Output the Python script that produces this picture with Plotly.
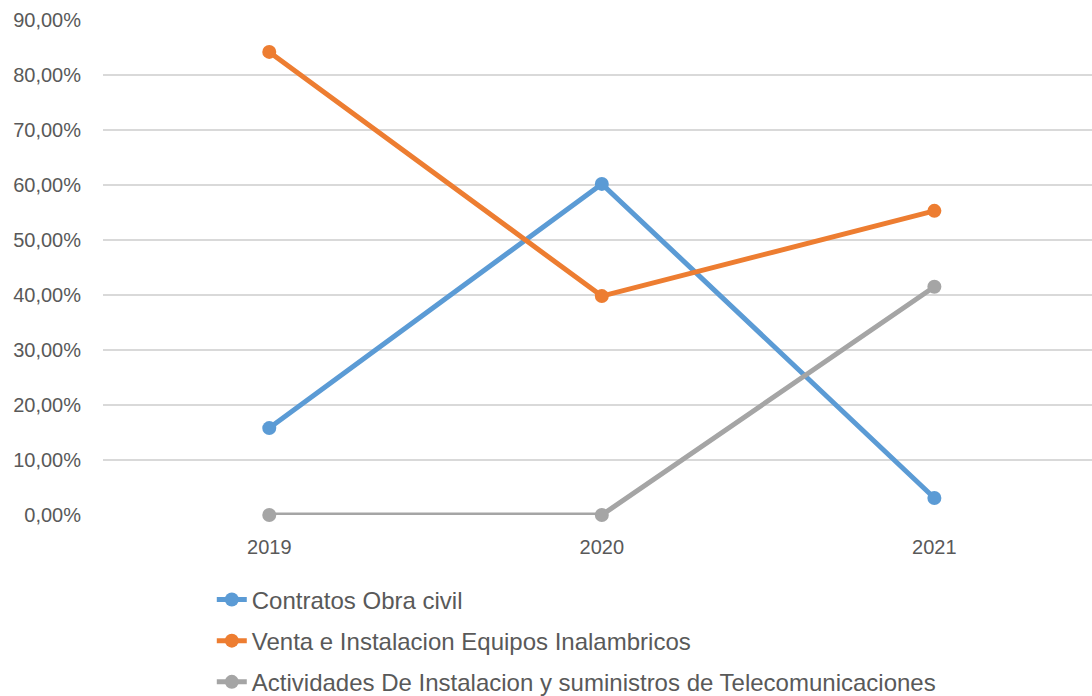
import plotly.graph_objects as go

years = ["2019", "2020", "2021"]
contratos = [0.158, 0.602, 0.031]
venta = [0.842, 0.398, 0.553]
actividades = [0.0, 0.0, 0.415]
names = ["Contratos Obra civil",
         "Venta e Instalacion Equipos Inalambricos",
         "Actividades De Instalacion y suministros de Telecomunicaciones"]
colors = ["#5b9bd5", "#ed7d31", "#a5a5a5"]

fig = go.Figure()
for i, (vals, nm, c) in enumerate(zip([contratos, venta, actividades], names, colors)):
    fig.add_trace(go.Scatter(x=years, y=vals, name=nm, mode="lines+markers",
                             legendgroup=f"g{i}", cliponaxis=False,
                             line=dict(color=c, width=5),
                             marker=dict(color=c, size=14)))

fig.update_layout(
    width=1092, height=696,
    margin=dict(l=103, r=0, t=20, b=181, autoexpand=False),
    plot_bgcolor="white", paper_bgcolor="white",
    separators=",.",
    font=dict(family="Liberation Sans, Arial", color="#595959"),
    legend=dict(x=0.11, xanchor="left", y=-0.126, yanchor="top",
                font=dict(size=24, color="#595959"),
                tracegroupgap=7, bgcolor="rgba(0,0,0,0)"),
    showlegend=True,
)
fig.update_xaxes(type="category", range=[-0.5, 2.474], showgrid=False, showline=False,
                 zeroline=False, tickfont=dict(size=20, color="#595959"),
                 ticklabelstandoff=18)
fig.update_yaxes(range=[0, 0.9], dtick=0.1, tickformat=".2%", showgrid=True,
                 gridcolor="#d9d9d9", gridwidth=1.5, zeroline=False, showline=False,
                 tickfont=dict(size=20, color="#595959"), ticklabelstandoff=21)
fig.write_html("out.html")
